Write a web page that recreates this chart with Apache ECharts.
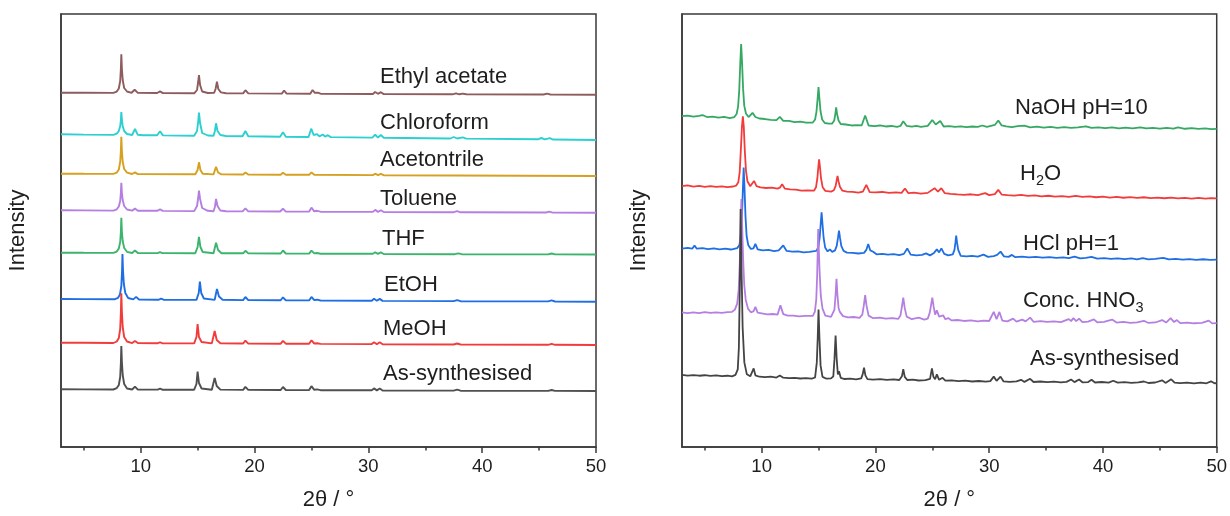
<!DOCTYPE html>
<html>
<head>
<meta charset="utf-8">
<script src="https://cdn.jsdelivr.net/npm/echarts@6/dist/echarts.min.js"></script>
<style>
html,body{margin:0;padding:0;background:#fff;}
#chart{width:1230px;height:516px;}
</style>
</head>
<body>
<div id="chart"></div>
<script>
// ---------- Data: [2θ (deg), intensity (a.u., stacked offset included)] ----------
// Left panel: solvents
const ethylAcetate = [[3,354.3],[5,354.3],[7.6,354.1],[7.9,355.4],[8.08,358.5],[8.2,366],[8.26,378],[8.3,392.6],[8.35,378],[8.42,367],[8.55,359],[8.8,355.5],[9.2,354.2],[9.47,357.2],[9.75,354.1],[11.45,354],[11.7,355.6],[11.95,353.9],[14.7,353.7],[14.95,357],[15.05,365],[15.12,372],[15.22,362],[15.4,355.5],[15.9,354],[16.45,354.2],[16.58,358],[16.7,365.3],[16.82,358],[17.05,354.6],[17.5,353.8],[19.0,353.6],[19.2,356.8],[19.45,353.6],[22.4,353.4],[22.6,356.5],[22.82,353.4],[24.9,353.3],[25.1,357],[25.3,354.2],[25.55,354.4],[25.8,353.3],[30.4,353],[30.6,355],[30.85,353.2],[31.1,354.8],[31.35,352.9],[37.4,352.7],[37.7,353.6],[38.0,352.7],[38.3,353.4],[38.6,352.7],[45.4,352.5],[45.7,353.3],[46.0,352.5],[50,352.3]];
const chloroform = [[3,312.7],[5,312.4],[7.6,312.1],[7.9,313.4],[8.08,316],[8.2,321],[8.26,327],[8.3,335],[8.35,327],[8.42,321],[8.55,316],[8.8,313],[9.25,312],[9.5,318],[9.75,312.2],[10.2,311.8],[11.45,311.7],[11.7,315.8],[11.95,311.6],[14.7,311.2],[14.95,316],[15.05,325],[15.12,334.3],[15.22,324],[15.4,314],[15.9,311.5],[16.4,311.3],[16.52,316],[16.62,323.7],[16.75,316],[17.0,312],[17.5,311],[18.95,310.7],[19.2,316],[19.45,310.7],[22.25,310.3],[22.5,314.8],[22.75,310.3],[24.75,310],[24.98,318.3],[25.2,312],[25.5,312.8],[25.7,310.6],[26.0,312.5],[26.2,310.4],[26.45,311.8],[26.7,309.9],[30.35,309.4],[30.6,312.3],[30.85,309.5],[31.1,312],[31.35,309.3],[37.2,308.5],[37.5,310],[37.8,308.5],[38.3,309.6],[38.6,308.4],[44.9,307.7],[45.2,309],[45.5,307.6],[45.95,308.9],[46.2,307.5],[50,307]];
const acetonitrile = [[3,273.3],[5,273.2],[7.6,273.1],[7.9,274.4],[8.08,277.5],[8.2,285],[8.26,296],[8.3,310.3],[8.35,296],[8.42,285],[8.55,278],[8.8,274.3],[9.25,273],[9.5,274.6],[9.75,272.9],[14.8,272.7],[15.0,277],[15.12,284.7],[15.25,277],[15.45,273.3],[16.4,272.6],[16.62,280.3],[16.8,274.5],[17.1,272.6],[19.0,272.5],[19.2,274.5],[19.45,272.4],[22.3,272.3],[22.5,274.2],[22.75,272.3],[24.8,272.2],[25.0,274.6],[25.25,272.2],[30.4,271.9],[30.6,273.3],[30.85,271.9],[31.1,273.2],[31.35,271.8],[50,271]];
const toluene = [[3,236.7],[5,236.6],[7.6,236.4],[7.9,237.7],[8.08,240.5],[8.2,246],[8.26,254],[8.3,264.3],[8.35,254],[8.42,247],[8.55,241],[8.8,237.5],[9.25,236.4],[9.5,238.4],[9.75,236.3],[11.45,236.2],[11.7,237.7],[11.95,236.1],[14.7,235.9],[14.95,241],[15.05,249],[15.12,256.3],[15.22,248],[15.4,239],[15.9,236.2],[16.4,235.8],[16.52,240],[16.62,248],[16.75,241],[17.0,236.5],[17.5,235.7],[18.95,235.6],[19.2,238.6],[19.45,235.6],[22.25,235.5],[22.5,238.3],[22.75,235.4],[24.8,235.4],[25.0,239.3],[25.25,235.7],[25.5,236.2],[25.8,235.3],[30.4,235.1],[30.6,237.1],[30.85,235.1],[31.1,236.8],[31.35,235],[37.5,234.8],[37.8,235.8],[38.1,234.7],[45.6,234.5],[45.9,235.4],[46.2,234.4],[50,234.3]];
const thf = [[3,194.3],[5,194.2],[7.6,194.1],[7.9,195.4],[8.08,198.5],[8.2,205],[8.26,215],[8.3,229.3],[8.35,215],[8.42,206],[8.55,199],[8.8,195.2],[9.25,194],[9.5,196.5],[9.75,194],[11.5,193.9],[11.7,194.9],[11.9,193.9],[14.8,193.8],[15.0,200],[15.12,210],[15.25,200],[15.45,195],[16.4,193.7],[16.62,204.3],[16.8,197],[17.1,193.8],[19.0,193.7],[19.2,196.2],[19.45,193.6],[22.3,193.5],[22.5,196.5],[22.75,193.5],[24.8,193.4],[25.0,196.4],[25.25,193.6],[25.5,194],[25.8,193.3],[30.4,193.2],[30.6,194.7],[30.85,193.1],[31.1,194.6],[31.35,193],[37.6,192.8],[37.9,193.6],[38.2,192.8],[45.8,192.6],[46.1,193.5],[46.4,192.6],[50,192.5]];
const etoh = [[3,148],[5,147.9],[7.7,147.7],[8.0,149.1],[8.18,152.5],[8.3,161],[8.36,175],[8.4,193],[8.45,176],[8.52,163],[8.65,154],[8.9,149],[9.35,147.6],[9.6,150.1],[9.85,147.5],[11.6,147.3],[11.8,148.3],[12.0,147.3],[14.9,147.1],[15.1,154],[15.2,165.3],[15.32,154],[15.55,148.5],[16.5,147.1],[16.7,158],[16.88,150.5],[17.2,147.2],[19.0,146.9],[19.2,150],[19.45,146.9],[22.3,146.7],[22.5,149.7],[22.75,146.7],[24.8,146.6],[25.0,150.1],[25.25,146.9],[25.5,147.3],[25.8,146.5],[30.3,146.2],[30.5,148.2],[30.75,146.2],[31.0,148.1],[31.25,146.1],[37.5,145.9],[37.8,146.9],[38.1,145.8],[45.8,145.6],[46.1,146.6],[46.4,145.5],[50,145.3]];
const meoh = [[3,104.3],[5,104.2],[7.6,104],[7.9,105.5],[8.08,109],[8.2,118],[8.26,134],[8.3,153.7],[8.35,135],[8.42,120],[8.55,110],[8.8,105.5],[9.25,103.9],[9.5,106],[9.75,103.9],[11.5,103.8],[11.7,104.6],[11.9,103.8],[14.7,103.6],[14.9,110],[15.0,123],[15.12,110],[15.35,105],[16.25,103.6],[16.5,116],[16.68,107],[17.0,103.8],[19.0,103.5],[19.2,106.4],[19.45,103.4],[22.3,103.3],[22.5,106.2],[22.75,103.3],[24.8,103.2],[25.0,106.7],[25.25,103.5],[25.5,103.8],[25.8,103.1],[30.3,102.9],[30.5,104.8],[30.75,102.8],[31.0,104.7],[31.25,102.7],[37.5,102.5],[37.8,103.5],[38.1,102.5],[45.8,102.2],[46.1,103.1],[46.4,102.2],[50,102]];
const asSynthLeft = [[3,57.7],[5,57.6],[7.6,57.5],[7.9,58.9],[8.08,62],[8.2,70],[8.26,84],[8.3,101],[8.35,85],[8.42,72],[8.55,63],[8.8,58.5],[9.25,57.5],[9.5,60.4],[9.75,57.4],[11.5,57.4],[11.7,58.4],[11.9,57.3],[14.7,57.3],[14.9,63],[15.0,75.3],[15.12,64],[15.35,58.5],[16.25,57.2],[16.5,69],[16.68,61],[17.0,57.4],[19.0,57.1],[19.2,60.1],[19.45,57.1],[22.3,57],[22.5,60],[22.75,57],[24.8,56.9],[25.0,60.8],[25.25,57.2],[25.5,57.6],[25.8,56.8],[30.3,56.7],[30.5,58.6],[30.75,56.6],[31.0,58.5],[31.25,56.5],[37.5,56.4],[37.8,57.3],[38.1,56.3],[45.8,56.1],[46.1,57],[46.4,56.1],[50,56]];

// Right panel: chemical stability
const naoh = [[3,332.3],[3.5,333],[4,331.8],[4.5,332.6],[4.8,333.5],[5.2,331.5],[5.7,332],[6.2,331],[6.7,331.6],[7.2,330.4],[7.6,331.5],[7.8,334.5],[7.93,342],[8.03,358],[8.12,385],[8.2,404.7],[8.28,386],[8.37,360],[8.47,343],[8.62,335],[8.85,331.5],[9.0,331.5],[9.2,335.7],[9.45,331.5],[9.8,330],[10.3,329.5],[10.8,328.6],[11.3,328.3],[11.6,331.7],[11.9,327.6],[12.4,327.6],[12.9,326.4],[13.4,326.8],[13.9,325.8],[14.5,326],[14.7,329],[14.82,337],[14.92,350],[15.0,361.7],[15.08,350],[15.18,337],[15.32,329],[15.55,325.5],[15.9,324.8],[16.2,325],[16.38,328],[16.47,334],[16.55,341.3],[16.64,334],[16.76,328],[16.95,324.5],[17.4,324],[17.9,323],[18.4,323.3],[18.8,323.2],[19.1,333],[19.4,323],[19.9,322.4],[20.4,323],[20.9,322],[21.4,322.5],[21.9,321.7],[22.2,322.5],[22.45,327.3],[22.75,322.5],[23.2,321.8],[23.6,322.6],[24.0,321.6],[24.6,322.6],[25.0,328.5],[25.3,324],[25.7,327.5],[26.0,322],[26.5,322.3],[27.0,321.5],[27.5,322.2],[28.0,321.4],[28.5,322],[29.0,321.5],[29.4,323],[29.8,321.5],[30.5,323.5],[30.8,328],[31.1,323],[31.5,322],[32.0,321.3],[32.5,322.3],[33.1,322.8],[33.6,321.2],[34.2,321.8],[34.8,320.8],[35.4,321.5],[36.0,320.7],[36.6,321.4],[37.2,320.6],[37.8,321.2],[38.5,322.2],[39.0,320.5],[39.6,321.2],[40.2,320.3],[40.8,321],[41.4,320.2],[42.0,320.8],[42.6,320],[43.3,321.2],[43.8,320],[44.4,320.6],[45.0,319.8],[45.6,320.5],[46.2,319.8],[46.6,321],[47.2,319.7],[47.8,320.3],[48.4,319.5],[49.0,320.1],[49.5,319.4],[50,319.6]];
const water = [[3,262],[3.5,262.8],[4,261.6],[4.5,262.3],[5,261.4],[5.5,262.1],[6,261.3],[6.5,261.9],[7,261],[7.5,261.7],[7.75,262.5],[7.95,266],[8.07,276],[8.17,298],[8.27,322],[8.35,332.3],[8.43,322],[8.52,298],[8.62,278],[8.75,267],[9.0,262],[9.15,263],[9.33,267.3],[9.55,262],[9.9,260.8],[10.4,260.2],[10.9,260.6],[11.4,259.5],[11.6,260.5],[11.8,264],[12.05,259.5],[12.5,258.8],[13.0,258.5],[13.5,257.6],[14.0,257.8],[14.6,257.5],[14.78,261],[14.9,270],[14.98,281],[15.05,289],[15.13,281],[15.22,270],[15.36,261],[15.6,257.3],[16.1,256.6],[16.35,258],[16.5,262],[16.59,267.5],[16.67,272.3],[16.76,267],[16.88,261.5],[17.1,257.5],[17.5,256.6],[18.0,256.4],[18.5,255.6],[18.9,256.5],[19.2,263.3],[19.5,256],[20.0,255.7],[20.6,256.2],[21.2,255.2],[21.8,255.8],[22.3,255.3],[22.6,259.7],[22.9,255],[23.4,255.5],[24.0,254.6],[24.6,255.3],[25.2,260],[25.5,256.5],[25.8,260],[26.1,255],[26.6,254.2],[27.2,253.7],[27.8,253.3],[28.4,253.9],[29.0,253],[29.65,255],[30.0,253],[30.5,254],[30.8,258.3],[31.1,253.6],[31.6,253.1],[32.2,252.6],[32.8,253.2],[33.4,252.2],[34.0,252.7],[34.6,251.8],[35.2,252.4],[35.8,251.6],[36.4,252.1],[37.0,251.3],[37.6,252.2],[38.2,251.2],[38.8,251.8],[39.4,250.9],[40.0,251.5],[40.6,250.6],[41.2,251.2],[41.8,250.4],[42.4,251],[43.0,250.3],[43.6,250.9],[44.2,250.1],[44.8,250.6],[45.4,249.9],[46.0,250.5],[46.6,249.8],[47.2,250.3],[47.8,249.6],[48.4,250.2],[49.0,249.6],[49.5,250],[50,249.7]];
const hcl = [[3,199.3],[3.5,200],[3.9,199.2],[4.1,202.5],[4.3,199.2],[4.8,199.8],[5.3,198.8],[5.8,199.5],[6.3,198.6],[6.8,199.2],[7.3,198.4],[7.85,199.8],[8.05,203],[8.17,212],[8.27,232],[8.36,262],[8.42,280.7],[8.49,262],[8.58,232],[8.68,212],[8.82,203],[9.05,199],[9.28,199.5],[9.45,204],[9.65,198.5],[10.1,197.5],[10.6,198],[11.1,196.8],[11.5,197.5],[11.9,202.5],[12.2,197],[12.7,196.2],[13.2,196.6],[13.7,195.6],[14.2,196],[14.8,197],[14.98,200.5],[15.1,210],[15.19,224],[15.27,235.7],[15.35,224],[15.45,210],[15.58,200.5],[15.8,196.5],[16.0,198.5],[16.2,196],[16.45,197.5],[16.6,202],[16.71,210],[16.8,217.3],[16.89,210],[17.0,202],[17.2,197],[17.5,195.3],[18.0,195],[18.5,194.4],[19.0,195],[19.2,198],[19.37,204],[19.55,197.5],[19.8,196.2],[20.1,193.6],[20.6,194.1],[21.1,193.2],[21.6,193.7],[22.1,192.8],[22.5,194],[22.8,199.5],[23.1,193.3],[23.6,192.5],[24.1,193],[24.45,194.5],[24.8,192.5],[25.15,195],[25.4,198.5],[25.6,195.5],[25.8,199.5],[26.05,194],[26.4,192.5],[26.8,193.5],[26.95,198],[27.03,205],[27.1,212.3],[27.18,205],[27.28,198],[27.5,192],[28.0,191.5],[28.5,192],[29.0,191.2],[29.5,193.3],[29.9,191],[30.4,191.8],[30.7,193],[31.0,196.3],[31.3,191.5],[31.7,191],[32.0,193],[32.3,190.7],[32.9,191.2],[33.5,190.4],[34.1,191],[34.7,190.2],[35.3,190.7],[35.9,189.9],[36.5,190.5],[37.0,189.7],[37.5,191.2],[38.0,189.5],[38.5,190.1],[39.0,191],[39.5,189.3],[40.1,189.8],[40.7,189],[41.3,189.6],[41.9,188.8],[42.5,189.4],[43.0,188.6],[43.5,189.8],[44.0,188.5],[44.6,189],[45.3,190],[45.8,188.4],[46.4,188.9],[47.0,188.2],[47.6,188.8],[48.2,188],[48.8,188.6],[49.4,187.9],[50,188.2]];
const hno3 = [[3,135.2],[3.5,134.5],[4,135.3],[4.5,134.6],[5,135.4],[5.5,134.7],[6,135.3],[6.5,134.8],[7,135.4],[7.4,135.8],[7.65,138],[7.85,144],[7.98,158],[8.08,185],[8.15,220],[8.22,249],[8.29,222],[8.37,190],[8.47,163],[8.6,148],[8.8,139],[9.05,135.3],[9.3,136.5],[9.45,140.7],[9.65,135],[10.0,134.3],[10.5,133.3],[11.0,133.6],[11.4,133],[11.65,142.3],[11.9,133.5],[12.3,132],[12.8,131.9],[13.3,131.3],[13.8,131.8],[14.5,131.8],[14.68,136],[14.8,148],[14.88,172],[14.93,198],[14.97,219],[15.02,200],[15.1,175],[15.2,152],[15.35,139],[15.6,132],[16.1,130.8],[16.25,132],[16.4,138],[16.5,153],[16.58,169],[16.66,153],[16.76,140],[16.86,136],[16.95,137.3],[17.15,131.5],[17.6,130.3],[18.1,130.6],[18.6,129.8],[18.85,133],[18.98,142],[19.1,152.5],[19.22,142],[19.4,132],[19.8,129.4],[20.4,130],[20.9,129],[21.5,129.5],[22.0,128.7],[22.2,132],[22.33,141],[22.45,150],[22.57,140],[22.75,131],[23.2,128.4],[23.8,130],[24.3,128],[24.6,129],[24.78,135],[24.9,143],[25.0,150],[25.12,141],[25.25,133],[25.4,137.3],[25.6,131],[25.95,132.3],[26.15,128.3],[26.4,129.5],[26.7,127.2],[27.2,127.6],[27.8,126.6],[28.4,127.2],[29.0,126.3],[29.5,127],[30.0,126.6],[30.4,135.7],[30.65,128.5],[30.9,135.7],[31.15,127],[31.6,126.2],[32.1,129],[32.4,126],[32.9,128],[33.2,126.2],[33.6,130],[33.9,125.8],[34.5,126.4],[35.1,125.6],[35.7,126.2],[36.3,125.4],[37.0,128.5],[37.2,126.5],[37.4,129.5],[37.65,126.5],[37.9,129],[38.2,125.4],[38.7,125.9],[39.2,128.2],[39.5,125.3],[40.1,125.8],[40.8,128],[41.2,125],[41.8,125.6],[42.4,124.8],[43.0,125.3],[43.6,126.8],[44.0,124.6],[44.6,125.1],[45.2,127.5],[45.55,125],[45.95,129.5],[46.25,125.5],[46.5,127.5],[46.8,124.5],[47.4,125],[48.0,124.3],[48.7,124.8],[49.3,127],[49.6,124.2],[50,124.5]];
const asSynthRight = [[3,72.4],[3.5,71.8],[4,72.3],[4.5,71.6],[5,72.1],[5.5,71.4],[6,71.9],[6.5,71.1],[7,71.6],[7.4,71],[7.7,72.5],[7.9,78],[8.0,100],[8.08,160],[8.15,239],[8.23,180],[8.33,120],[8.48,85],[8.7,73],[9.0,71],[9.15,73],[9.3,79],[9.45,72],[9.8,70.6],[10.3,70.2],[10.8,70.6],[11.3,69.8],[11.6,71.8],[11.9,69.6],[12.4,69.1],[12.9,69.5],[13.4,68.8],[13.9,69.2],[14.4,68.6],[14.7,70],[14.85,85],[14.93,110],[15.0,138],[15.08,110],[15.18,82],[15.35,70.5],[15.7,68.6],[16.1,68.9],[16.3,71],[16.4,88],[16.5,112],[16.6,88],[16.7,73],[16.8,76],[16.95,69.5],[17.3,68.3],[17.8,68.7],[18.3,68],[18.75,69],[18.88,73],[19.0,79.7],[19.12,72],[19.3,68.2],[19.8,67.7],[20.4,68.2],[21.0,67.4],[21.6,67.9],[22.1,67.3],[22.33,71],[22.45,78.3],[22.58,70.5],[22.8,67.3],[23.3,67.7],[23.8,66.8],[24.4,67.2],[24.8,68.5],[24.97,79],[25.1,70.5],[25.25,68],[25.4,73],[25.6,67.5],[25.9,69.5],[26.15,66.6],[26.7,66.9],[27.3,66.2],[27.9,66.6],[28.5,65.8],[29.1,66.3],[29.7,65.7],[30.1,66.2],[30.4,70.7],[30.65,66.5],[31.0,70.7],[31.25,66],[31.8,65.4],[32.4,66],[32.8,67.5],[33.1,65.4],[33.6,68.5],[33.9,65.3],[34.5,65.8],[35.1,65.1],[35.7,65.6],[36.3,64.9],[36.8,65.4],[37.2,67.8],[37.5,65.2],[37.9,67.8],[38.2,65],[38.7,65.2],[39.0,67.6],[39.3,64.8],[39.9,65.3],[40.5,64.6],[40.9,66.6],[41.3,64.6],[41.9,65.1],[42.5,64.4],[43.1,64.9],[43.6,65.8],[44.0,64.3],[44.6,64.8],[45.2,67],[45.5,64.4],[46.0,68],[46.3,64.6],[46.8,64.2],[47.4,64.7],[48.0,64],[48.6,64.6],[49.1,64],[49.5,66],[49.8,64],[50,64.3]];

const leftNames = ['Ethyl acetate','Chloroform','Acetontrile','Toluene','THF','EtOH','MeOH','As-synthesised'];
const leftData = [ethylAcetate, chloroform, acetonitrile, toluene, thf, etoh, meoh, asSynthLeft];
const leftColors = ['#8e5c5c','#2dd0d0','#d6a020','#b57fe2','#3db46e','#1f6fe3','#f23c3c','#505050'];

const rightNames = ['NaOH pH=10','H2O','HCl pH=1','Conc. HNO3','As-synthesised (2)'];
const rightData = [naoh, water, hcl, hno3, asSynthRight];
const rightColors = ['#35a863','#f23c3c','#1f6fe3','#b57fe2','#444444'];

const majorTicks = [10, 20, 30, 40, 50];
const minorTicks = [5, 15, 25, 35, 45];
const xTitle = '2θ / °';
const yTitle = 'Intensity';

// ---------- Styling ----------
const FONT = 'Liberation Sans, Arial, sans-serif';
const AXIS_COLOR = '#3a3a3a';
const TEXT_COLOR = '#1e1e1e';
const LABEL_SIZE = 22;

function majorAxis(gridIndex) {
  return {
    type: 'value', gridIndex: gridIndex, min: 3, max: 50, position: 'bottom',
    axisLine: { show: true, lineStyle: { color: AXIS_COLOR, width: 1.5 } },
    axisTick: { show: true, customValues: majorTicks, length: 6, lineStyle: { color: AXIS_COLOR, width: 1.5 } },
    axisLabel: { show: true, customValues: majorTicks, fontSize: 18.5, color: TEXT_COLOR, fontFamily: FONT, margin: 10 },
    splitLine: { show: false },
    name: xTitle, nameLocation: 'middle', nameGap: 42,
    nameTextStyle: { fontSize: 22, color: TEXT_COLOR, fontFamily: FONT }
  };
}
function minorAxis(gridIndex) {
  return {
    type: 'value', gridIndex: gridIndex, min: 3, max: 50, position: 'bottom',
    axisLine: { show: false },
    axisTick: { show: true, customValues: minorTicks, length: 3.5, lineStyle: { color: AXIS_COLOR, width: 1.5 } },
    axisLabel: { show: false },
    splitLine: { show: false }
  };
}
function yAxis(gridIndex, max) {
  return {
    type: 'value', gridIndex: gridIndex, min: 0, max: max,
    axisLine: { show: true, lineStyle: { color: AXIS_COLOR, width: 1.5 } },
    axisTick: { show: false }, axisLabel: { show: false }, splitLine: { show: false },
    name: yTitle, nameLocation: 'middle', nameGap: 32, nameRotate: 90,
    nameTextStyle: { fontSize: 22, color: TEXT_COLOR, fontFamily: FONT }
  };
}

const series = [];
leftData.forEach((d, i) => series.push({
  name: leftNames[i], type: 'line', xAxisIndex: 0, yAxisIndex: 0, data: d,
  showSymbol: false, silent: true, lineStyle: { color: leftColors[i], width: 1.9 }, itemStyle: { color: leftColors[i] }
}));
rightData.forEach((d, i) => series.push({
  name: rightNames[i], type: 'line', xAxisIndex: 1, yAxisIndex: 1, data: d,
  showSymbol: false, silent: true, lineStyle: { color: rightColors[i], width: 1.8 }, itemStyle: { color: rightColors[i] }
}));

function txt(x, y, s, size) {
  return { type: 'text', x: x, y: y, silent: true,
    style: { text: s, fill: TEXT_COLOR, fontSize: size || LABEL_SIZE, fontFamily: FONT, verticalAlign: 'middle', align: 'left' } };
}
const graphics = [
  txt(380, 77, leftNames[0]),
  txt(380, 123, leftNames[1]),
  txt(380, 160, leftNames[2]),
  txt(380, 199, leftNames[3]),
  txt(382, 239, leftNames[4]),
  txt(384, 285, leftNames[5]),
  txt(383, 329, leftNames[6]),
  txt(383, 374, leftNames[7]),
  txt(1015, 108, 'NaOH pH=10'),
  txt(1020, 174, 'H'), txt(1036, 181, '2', 14.5), txt(1044, 174, 'O'),
  txt(1023, 244, 'HCl pH=1'),
  txt(1023, 301, 'Conc. HNO'), txt(1135.5, 308, '3', 14.5),
  txt(1030, 359, 'As-synthesised')
];

const chart = echarts.init(document.getElementById('chart'), null, { renderer: 'canvas' });
chart.setOption({
  animation: false,
  backgroundColor: '#ffffff',
  grid: [
    { left: 61, top: 14, width: 535, height: 433, show: true, borderColor: AXIS_COLOR, borderWidth: 1.5, backgroundColor: 'transparent' },
    { left: 682, top: 14, width: 535, height: 435, show: true, borderColor: AXIS_COLOR, borderWidth: 1.5, backgroundColor: 'transparent' }
  ],
  xAxis: [majorAxis(0), majorAxis(1), minorAxis(0), minorAxis(1)],
  yAxis: [yAxis(0, 433), yAxis(1, 435)],
  series: series,
  graphic: graphics
});
</script>
</body>
</html>
